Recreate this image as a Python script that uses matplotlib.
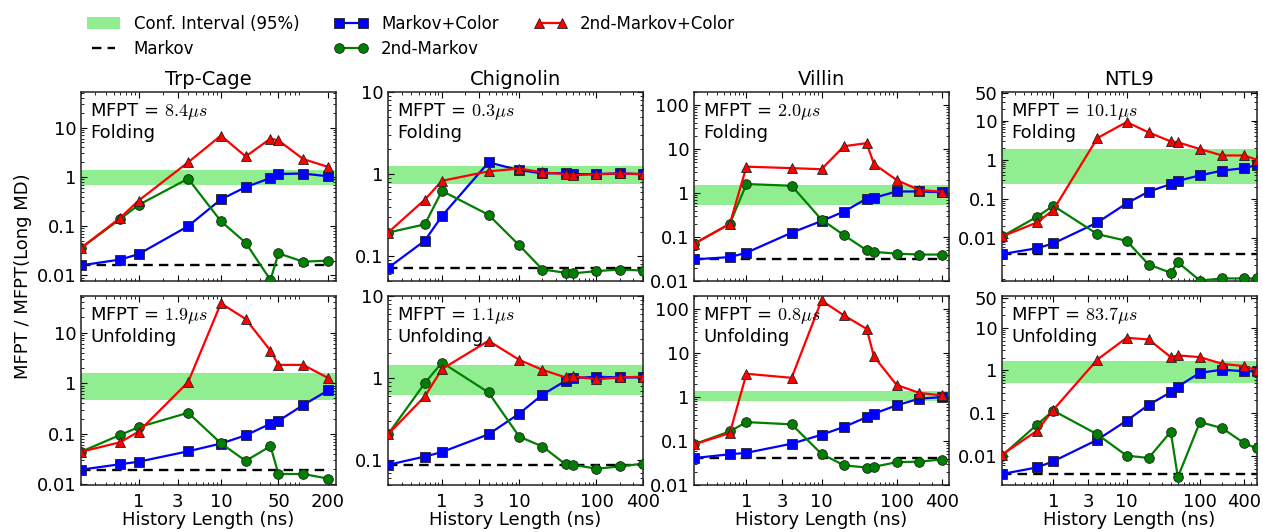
# MFPT ratio vs history length - Trp-Cage / Chignolin / Villin / NTL9
import matplotlib
matplotlib.use('Agg')
import matplotlib.pyplot as plt
from matplotlib.ticker import FixedLocator, LogLocator, NullFormatter, FuncFormatter
from matplotlib.patches import Patch
from matplotlib.lines import Line2D

plt.rcParams['font.family'] = 'DejaVu Sans'
plt.rcParams['mathtext.fontset'] = 'cm'

# ============================================================
# DATA
# ============================================================
proteins = ['Trp-Cage', 'Chignolin', 'Villin', 'NTL9']

x_trp = [0.2, 0.6, 1, 4, 10, 20, 40, 50, 100, 200]
x_chig = [0.2, 0.6, 1, 4, 10, 20, 40, 50, 100, 200, 400]
x_vil = [0.2, 0.6, 1, 4, 10, 20, 40, 50, 100, 200, 400]
x_ntl9 = [0.2, 0.6, 1, 4, 10, 20, 40, 50, 100, 200, 400, 600]

xticks_trp = [1, 3, 10, 50, 200]
xticks_rest = [1, 3, 10, 100, 400]

# --- Trp-Cage
trp_fold_mfpt = '8.4'
trp_fold_markov = 0.016
trp_fold_band = (0.68, 1.36)
trp_fold_mc = [0.016, 0.021, 0.027, 0.10, 0.35, 0.62, 0.95, 1.15, 1.17, 1.03]
trp_fold_m2 = [0.036, 0.14, 0.27, 0.92, 0.126, 0.046, 0.0081, 0.028, 0.019, 0.020]
trp_fold_m2c = [0.036, 0.148, 0.33, 1.98, 6.9, 2.6, 6.0, 5.5, 2.3, 1.6]

trp_unf_mfpt = '1.9'
trp_unf_markov = 0.0195
trp_unf_band = (0.46, 1.57)
trp_unf_mc = [0.0195, 0.025, 0.028, 0.045, 0.064, 0.093, 0.158, 0.18, 0.37, 0.72]
trp_unf_m2 = [0.044, 0.095, 0.135, 0.26, 0.065, 0.029, 0.057, 0.016, 0.016, 0.013]
trp_unf_m2c = [0.044, 0.068, 0.11, 1.05, 38, 18.6, 4.4, 2.3, 2.3, 1.27]

# --- Chignolin
chig_fold_mfpt = '0.3'
chig_fold_markov = 0.071
chig_fold_band = (0.755, 1.26)
chig_fold_mc = [0.072, 0.155, 0.31, 1.39, 1.12, 1.02, 1.03, 1.0, 1.0, 1.02, 1.0]
chig_fold_m2 = [0.194, 0.245, 0.625, 0.32, 0.136, 0.069, 0.063, 0.062, 0.066, 0.069, 0.067]
chig_fold_m2c = [0.194, 0.49, 0.83, 1.08, 1.17, 1.05, 1.0, 0.97, 1.0, 1.02, 1.0]

chig_unf_mfpt = '1.1'
chig_unf_markov = 0.088
chig_unf_band = (0.63, 1.44)
chig_unf_mc = [0.088, 0.111, 0.126, 0.207, 0.37, 0.63, 0.93, 1.0, 1.04, 1.02, 1.02]
chig_unf_m2 = [0.207, 0.87, 1.55, 0.67, 0.194, 0.147, 0.089, 0.088, 0.079, 0.084, 0.091]
chig_unf_m2c = [0.207, 0.60, 1.29, 2.85, 1.67, 1.26, 1.02, 1.05, 0.97, 1.02, 1.04]

# --- Villin
vil_fold_mfpt = '2.0'
vil_fold_markov = 0.031
vil_fold_band = (0.54, 1.55)
vil_fold_mc = [0.031, 0.035, 0.044, 0.126, 0.232, 0.38, 0.75, 0.78, 1.09, 1.09, 1.05]
vil_fold_m2 = [0.07, 0.20, 1.61, 1.47, 0.25, 0.11, 0.050, 0.046, 0.042, 0.040, 0.040]
vil_fold_m2c = [0.07, 0.20, 4.0, 3.7, 3.5, 11.7, 13.7, 4.6, 2.0, 1.17, 1.08]

vil_unf_mfpt = '0.8'
vil_unf_markov = 0.041
vil_unf_band = (0.80, 1.37)
vil_unf_mc = [0.041, 0.050, 0.054, 0.087, 0.139, 0.21, 0.35, 0.42, 0.65, 0.92, 1.0]
vil_unf_m2 = [0.084, 0.166, 0.27, 0.24, 0.051, 0.028, 0.025, 0.026, 0.033, 0.034, 0.038]
vil_unf_m2c = [0.084, 0.152, 3.4, 2.75, 158, 72, 35.7, 8.4, 1.9, 1.25, 1.09]

# --- NTL9
ntl9_fold_mfpt = '10.1'
ntl9_fold_markov = 0.0039
ntl9_fold_band = (0.24, 1.88)
ntl9_fold_mc = [0.0039, 0.0055, 0.0073, 0.025, 0.077, 0.154, 0.24, 0.29, 0.40, 0.53, 0.61, 0.74]
ntl9_fold_m2 = [0.011, 0.035, 0.067, 0.0126, 0.0085, 0.0021, 0.0013, 0.0024, 0.00082, 0.00093, 0.00093, 0.00093]
ntl9_fold_m2c = [0.011, 0.025, 0.052, 3.6, 9.2, 5.0, 2.95, 2.8, 1.88, 1.29, 1.29, 1.0]

ntl9_unf_mfpt = '83.7'
ntl9_unf_markov = 0.0038
ntl9_unf_band = (0.50, 1.65)
ntl9_unf_mc = [0.0038, 0.0054, 0.0075, 0.024, 0.067, 0.157, 0.31, 0.42, 0.88, 1.04, 0.96, 0.96]
ntl9_unf_m2 = [0.0102, 0.054, 0.115, 0.032, 0.0102, 0.0090, 0.037, 0.0032, 0.062, 0.045, 0.020, 0.015]
ntl9_unf_m2c = [0.0107, 0.039, 0.12, 1.8, 5.8, 5.3, 2.05, 2.25, 2.05, 1.43, 1.26, 1.0]

# axis limits / ticks per column
xlims = [(0.2, 250), (0.2, 400), (0.2, 500), (0.2, 600)]
ylims_fold = [(0.0077, 53), (0.05, 10), (0.01, 200), (0.0008, 54)]
ylims_unf = [(0.0097, 53), (0.05, 10), (0.01, 200), (0.0021, 55)]
yticks = [[0.01, 0.1, 1, 10], [0.1, 1, 10], [0.01, 0.1, 1, 10, 100], [0.01, 0.1, 1, 10, 50]]

panels = [
    # (row, col, x, markov, band, mc, m2, m2c, mfpt, label)
    (0, 0, x_trp, trp_fold_markov, trp_fold_band, trp_fold_mc, trp_fold_m2, trp_fold_m2c, trp_fold_mfpt, 'Folding'),
    (1, 0, x_trp, trp_unf_markov, trp_unf_band, trp_unf_mc, trp_unf_m2, trp_unf_m2c, trp_unf_mfpt, 'Unfolding'),
    (0, 1, x_chig, chig_fold_markov, chig_fold_band, chig_fold_mc, chig_fold_m2, chig_fold_m2c, chig_fold_mfpt, 'Folding'),
    (1, 1, x_chig, chig_unf_markov, chig_unf_band, chig_unf_mc, chig_unf_m2, chig_unf_m2c, chig_unf_mfpt, 'Unfolding'),
    (0, 2, x_vil, vil_fold_markov, vil_fold_band, vil_fold_mc, vil_fold_m2, vil_fold_m2c, vil_fold_mfpt, 'Folding'),
    (1, 2, x_vil, vil_unf_markov, vil_unf_band, vil_unf_mc, vil_unf_m2, vil_unf_m2c, vil_unf_mfpt, 'Unfolding'),
    (0, 3, x_ntl9, ntl9_fold_markov, ntl9_fold_band, ntl9_fold_mc, ntl9_fold_m2, ntl9_fold_m2c, ntl9_fold_mfpt, 'Folding'),
    (1, 3, x_ntl9, ntl9_unf_markov, ntl9_unf_band, ntl9_unf_mc, ntl9_unf_m2, ntl9_unf_m2c, ntl9_unf_mfpt, 'Unfolding'),
]

BAND = '#90EE90'
BLUE = '#0000FF'
GREEN = '#008000'
RED = '#FF0000'

# ============================================================
# FIGURE
# ============================================================
W, H = 1263, 532
fig = plt.figure(figsize=(W / 100, H / 100), dpi=100)

col_left = [81, 388, 694, 1002]
col_w = 255
row_top = [92, 296]
row_h = 189

fmt = FuncFormatter(lambda v, _: f'{v:g}')

for row, col, x, markov, band, mc, m2, m2c, mfpt, lab in panels:
    ax = fig.add_axes([col_left[col] / W, 1 - (row_top[row] + row_h) / H,
                       col_w / W, row_h / H])
    ax.set_xscale('log')
    ax.set_yscale('log')

    ax.axhspan(band[0], band[1], color=BAND, lw=0, zorder=1)
    ax.plot(x, [markov] * len(x), color='black', lw=1.7, dashes=(4, 2.6), zorder=2)
    ax.plot(x, mc, color=BLUE, lw=1.6, marker='s', ms=7, mfc=BLUE, mec='#222222', mew=0.6, zorder=3)
    ax.plot(x, m2, color=GREEN, lw=1.6, marker='o', ms=7, mfc=GREEN, mec='#222222', mew=0.6, zorder=4)
    ax.plot(x, m2c, color=RED, lw=1.6, marker='^', ms=7.5, mfc=RED, mec='#222222', mew=0.6, zorder=5)

    ax.set_xlim(xlims[col])
    ax.set_ylim(ylims_fold[col] if row == 0 else ylims_unf[col])

    ax.xaxis.set_major_locator(FixedLocator(xticks_trp if col == 0 else xticks_rest))
    ax.xaxis.set_minor_locator(LogLocator(base=10, subs=range(2, 10), numticks=20))
    ax.xaxis.set_minor_formatter(NullFormatter())
    ax.yaxis.set_major_locator(FixedLocator(yticks[col]))
    ax.yaxis.set_minor_locator(LogLocator(base=10, subs=range(2, 10), numticks=20))
    ax.yaxis.set_minor_formatter(NullFormatter())
    ax.yaxis.set_major_formatter(fmt)
    if row == 1:
        ax.xaxis.set_major_formatter(fmt)
        ax.set_xlabel('History Length (ns)', fontsize=13, labelpad=0.5)
    else:
        ax.xaxis.set_major_formatter(NullFormatter())
        ax.set_title(proteins[col], fontsize=14, pad=5)

    ax.tick_params(which='both', direction='in', top=True, right=True, labelsize=13)
    ax.tick_params(which='major', length=4, width=0.8)
    ax.tick_params(which='minor', length=2, width=0.6)
    ax.tick_params(axis='x', which='major', pad=5.5)
    for sp in ax.spines.values():
        sp.set_linewidth(1.1)
        sp.set_color('#222222')

    ax.text(0.035, 0.955, 'MFPT = $' + mfpt + r'\mu s$' + '\n' + lab,
            transform=ax.transAxes, ha='left', va='top', fontsize=13, zorder=6)

fig.text(0.0185, 0.48, 'MFPT / MFPT(Long MD)', rotation=90, fontsize=13,
         ha='center', va='center')

handles = [
    Patch(color=BAND, lw=0),
    Line2D([], [], color='black', lw=1.7, dashes=(4, 2.6)),
    Line2D([], [], color=BLUE, lw=1.6, marker='s', ms=7, mec='#222222', mew=0.6),
    Line2D([], [], color=GREEN, lw=1.6, marker='o', ms=7, mec='#222222', mew=0.6),
    Line2D([], [], color=RED, lw=1.6, marker='^', ms=7.5, mec='#222222', mew=0.6),
]
labels = ['Conf. Interval (95%)', 'Markov', 'Markov+Color', '2nd-Markov', '2nd-Markov+Color']
fig.legend(handles, labels, loc='upper left', bbox_to_anchor=(0.057, 1.0), ncol=3,
           frameon=False, fontsize=12, numpoints=2, handlelength=2.0,
           handletextpad=0.8, columnspacing=2.1, labelspacing=0.42, borderpad=0.4)

fig.savefig('out.png', dpi=100)
